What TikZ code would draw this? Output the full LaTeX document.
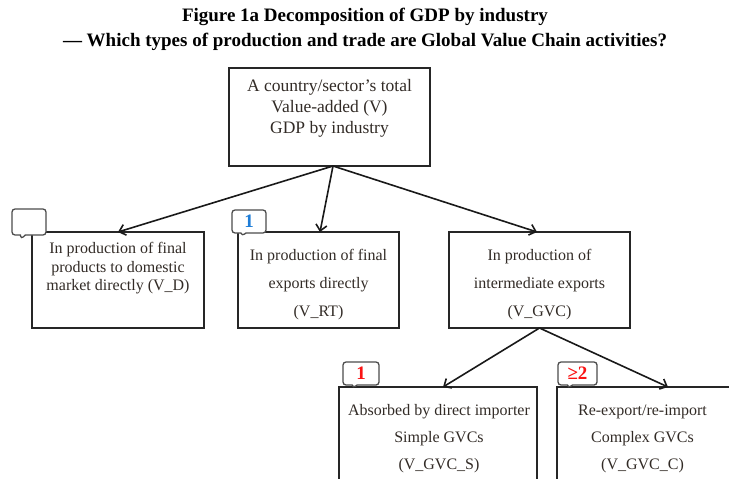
\documentclass[tikz,border=0pt]{standalone}
\usepackage{fontspec}
\setmainfont{Liberation Serif}
\usepackage{xcolor}
\usepackage{tikz}
\usetikzlibrary{arrows.meta, positioning, shapes.callouts}
\definecolor{txtgray}{RGB}{50,43,38}
\definecolor{numblue}{RGB}{30,125,215}
\definecolor{numred}{RGB}{250,20,20}

\begin{document}
\begin{tikzpicture}[x=1pt, y=-1pt,
    box/.style={draw=black!85, line width=1.8pt, inner sep=0pt, outer sep=0pt},
    txt/.style={text=txtgray, align=center, inner sep=0pt, font=\fontsize{16}{18.5}\selectfont},
    tag/.style={rectangle callout, draw=black!70, fill=white, line width=1.3pt,
      rounded corners=3pt, inner sep=0pt, minimum height=23pt,
      callout pointer width=5pt, font=\fontsize{19}{19}\selectfont\bfseries},
    link/.style={-{Straight Barb[length=6pt, width=11pt]}, line width=1.6pt, black!90}]
  \useasboundingbox (0,0) rectangle (729,479);
  \clip (0,0) rectangle (729,479);
  % --- title ---------------------------------------------------------
  \node[align=center, font=\fontsize{19}{25}\selectfont\bfseries] (title) at (365,29.5)
    {Figure 1a Decomposition of GDP by industry\\
     --- Which types of production and trade are Global Value Chain activities?};
  % --- top box: total value added ------------------------------------
  \node[box, minimum width=201pt, minimum height=98pt] (top) at (329.5,117) {};
  \node[txt, font=\fontsize{17.5}{21}\selectfont] (toptxt) at (329.5,108)
    {A country/sector’s total\\ Value-added (V)\\ GDP by industry};
  % --- second row ----------------------------------------------------
  \node[box, minimum width=172pt, minimum height=96pt] (vd)  at (118,280) {};
  \node[box, minimum width=161pt, minimum height=96pt] (rt)  at (318.5,280) {};
  \node[box, minimum width=181pt, minimum height=96pt] (gvc) at (539.5,280) {};
  \node[txt] (vdtxt) at (118,268.5)
    {In production of final\\ products to domestic\\ market directly (V\_D)};
  \node[txt, font=\fontsize{16}{28}\selectfont] (rttxt) at (318.5,285)
    {In production of final\\ exports directly\\ (V\_RT)};
  \node[txt, font=\fontsize{16}{28}\selectfont] (gvctxt) at (539.5,285)
    {In production of\\ intermediate exports\\ (V\_GVC)};
  % --- third row (cut by the page) -----------------------------------
  \node[box, minimum width=198pt, minimum height=133pt] (gvcs) at (438,453.5) {};
  \node[box, minimum width=198pt, minimum height=133pt] (gvcc) at (656,453.5) {};
  \node[txt, font=\fontsize{16}{27}\selectfont] (gvcstxt) at (439,439)
    {Absorbed by direct importer\\ Simple GVCs\\ (V\_GVC\_S)};
  \node[txt, font=\fontsize{16}{27}\selectfont] (gvcctxt) at (642.5,439)
    {Re-export/re-import\\ Complex GVCs\\ (V\_GVC\_C)};
  % --- number tags ---------------------------------------------------
  \node[tag, minimum width=34pt, minimum height=26pt,
    callout absolute pointer={(21,239)}] (tag0) at (29,222) {};
  \node[tag, minimum width=34pt, text=numblue,
    callout absolute pointer={(242,236)}] (tag1) at (249,221.5) {1};
  \node[tag, minimum width=36pt, text=numred,
    callout absolute pointer={(353,388)}] (tag2) at (361,373.5) {1};
  \node[tag, minimum width=39pt, text=numred,
    callout absolute pointer={(568,388)}] (tag3) at (577.5,373.5) {≥2};
  % --- arrows --------------------------------------------------------
  \draw[link] ([xshift=3.5pt]top.south) -- (vd.north);
  \draw[link] ([xshift=3.5pt]top.south) -- ([xshift=1.5pt]rt.north);
  \draw[link] ([xshift=3.5pt]top.south) -- ([xshift=-2.5pt]gvc.north);
  \draw[link] (gvc.south) -- ([xshift=5pt]gvcs.north);
  \draw[link] (gvc.south) -- ([xshift=12pt]gvcc.north);
\end{tikzpicture}
\end{document}
